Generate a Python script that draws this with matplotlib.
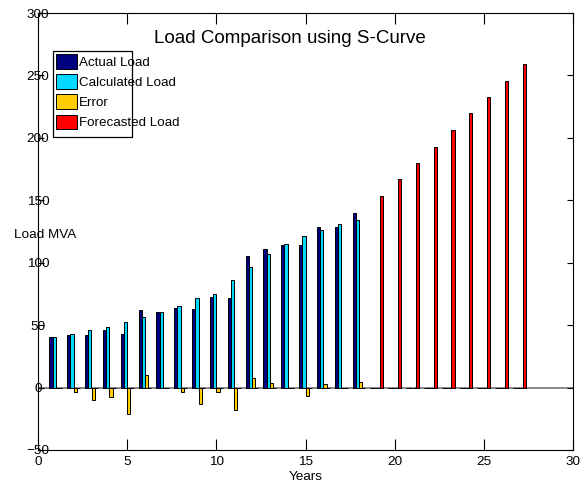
import matplotlib.pyplot as plt
from matplotlib.patches import Rectangle
import numpy as np

plt.rcParams['font.family'] = ['Liberation Sans', 'DejaVu Sans']

years_hist = np.arange(1, 19)
years_fc = np.arange(19, 28)

actual = [40.8, 42.4, 42.4, 45.9, 43.2, 62.2, 60.3, 63.8, 63.3, 72.9,
          72.1, 105.4, 111.1, 114.3, 114.3, 128.9, 128.9, 140.1]
calculated = [40.6, 43.2, 45.9, 48.9, 52.6, 56.3, 60.3, 65.7, 71.5, 75.0,
              86.0, 96.9, 107.3, 115.1, 121.5, 126.3, 130.8, 134.3]
error = [0.0, -3.7, -9.9, -7.2, -21.4, 9.9, 0.0, -3.7, -13.3, -3.7,
         -17.9, 7.7, 3.7, 0.0, -6.4, 2.7, -0.5, 4.3]
forecast = [153.2, 167.1, 179.7, 193.0, 206.6, 220.0, 232.5, 245.6, 259.2]

yticks = [-50, 0, 50, 100, 150, 200, 250, 300]
xticks = [0, 5, 10, 15, 20, 25, 30]

# pad every series out to all 27 years (zero bars show as flat lines)
years = np.arange(1, 28)
nf = len(years_fc)
nh = len(years_hist)
s_actual = np.concatenate([actual, np.zeros(nf)])
s_calc = np.concatenate([calculated, np.zeros(nf)])
s_err = np.concatenate([error, np.zeros(nf)])
s_fc = np.concatenate([np.zeros(nh), forecast])

fig = plt.figure(figsize=(5.87, 4.83), dpi=100)
ax = fig.add_axes([38/587, 33/483, 535/587, 437/483])

w = 0.182
offs = [-1.5*w, -0.5*w, 0.5*w, 1.5*w]
cols = ['#000080', '#00d8ff', '#ffcc00', '#ff0000']
names = ['Actual Load', 'Calculated Load', 'Error', 'Forecasted Load']
series = [s_actual, s_calc, s_err, s_fc]

ax.axhline(0, color='#808080', lw=1.3, zorder=1)
for s, o, c, n in zip(series, offs, cols, names):
    ax.bar(years + o, s, width=w, color=c, edgecolor='black', linewidth=0.7,
           label=n, zorder=2)

ax.set_xlim(0, 30)
ax.set_ylim(-50, 300)
ax.set_xticks(xticks)
ax.set_yticks(yticks)
ax.tick_params(axis='x', direction='in', length=8, width=0.8, top=True,
               labelsize=9.7, pad=4)
ax.tick_params(axis='y', direction='in', length=4.5, width=0.8, right=True,
               labelsize=9.7, pad=0)
for lab in ax.get_yticklabels():
    lab.set_horizontalalignment('center')
for sp in ax.spines.values():
    sp.set_linewidth(0.8)

ax.text(0.471, 0.931, 'Load Comparison using S-Curve', transform=ax.transAxes,
        ha='center', va='baseline', fontsize=13.5)
ax.set_ylabel('Load MVA', rotation=0, fontsize=9.7, ha='center', va='center')
ax.yaxis.set_label_coords(0.013, 0.492)
ax.set_xlabel('Years', fontsize=9.7, va='center')
ax.xaxis.set_label_coords(0.5, -0.062)

# MATLAB-style legend: narrow box, labels spill past its right edge
box = Rectangle((0.028, 0.717), 0.1477, 0.196, transform=ax.transAxes,
                facecolor='white', edgecolor='black', linewidth=0.9, zorder=4)
ax.add_patch(box)
leg = ax.legend(loc='upper left', bbox_to_anchor=(0.028, 0.913), borderaxespad=0,
                fontsize=9.6, handlelength=1.58, handleheight=1.3,
                labelspacing=0.4, handletextpad=0.12, borderpad=0.25,
                frameon=False)
leg.set_zorder(5)

fig.savefig('out.png', dpi=100)
